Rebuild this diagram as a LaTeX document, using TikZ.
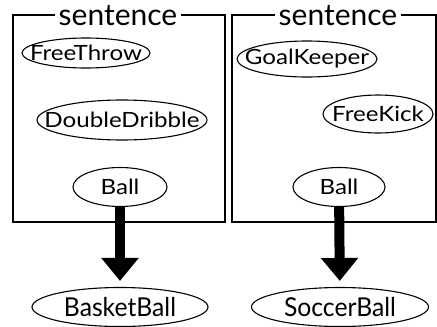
\documentclass[tikz,border=0pt]{standalone}
\usepackage{fontspec}
\setmainfont[FakeStretch=1.15]{Lato}
\newfontfamily\titlefont{Lato}
\newfontfamily\bigfont[FakeStretch=0.95]{Lato}
\usetikzlibrary{shapes.geometric,arrows.meta}
\tikzset{
  ell/.style={ellipse, draw, line width=1.1pt, inner sep=0pt},
  lbl/.style={font=\fontsize{21}{24}\selectfont},
  biglbl/.style={font=\bigfont\fontsize{26}{30}\selectfont},
  boxline/.style={draw, line width=1.3pt},
  title/.style={fill=white, inner xsep=4pt, inner ysep=0pt, anchor=base, font=\titlefont\fontsize{30}{32}\selectfont},
  bigarrow/.style={line width=10pt, -{Triangle[width=36pt,length=23pt]}, shorten >=6pt}
}
\begin{document}
\begin{tikzpicture}[x=1pt,y=-1pt]
\useasboundingbox (0,0) rectangle (437,327);
% boxes
\draw[boxline] (13,15) rectangle (225,222);
\draw[boxline] (232,15) rectangle (436,222);
\node[title] (t1) at (118,25) {sentence};
\node[title] (t2) at (338,25) {sentence};
% left nodes
\node[ell, minimum width=128pt, minimum height=30pt, label={[lbl]center:FreeThrow}] (ft) at (86,53) {};
\node[ell, minimum width=170pt, minimum height=40pt, label={[lbl]center:DoubleDribble}] (dd) at (122,120) {};
\node[ell, minimum width=94pt, minimum height=39pt, label={[lbl]center:Ball}] (bl) at (120,187) {};
\node[ell, minimum width=176pt, minimum height=39pt, label={[biglbl]center:BasketBall}] (bb) at (120,307) {};
% right nodes
\node[ell, minimum width=140pt, minimum height=36pt, label={[lbl]center:GoalKeeper}] (gk) at (307,59) {};
\node[ell, minimum width=110pt, minimum height=38pt, label={[lbl]center:FreeKick}] (fk) at (378,114) {};
\node[ell, minimum width=92pt, minimum height=39pt, label={[lbl]center:Ball}] (br) at (339,187) {};
\node[ell, minimum width=177pt, minimum height=39pt, label={[biglbl]center:SoccerBall}] (sb) at (340,307) {};
% arrows
\draw[bigarrow] (bl) -- (bb);
\draw[bigarrow] (br) -- (sb);
\end{tikzpicture}
\end{document}
